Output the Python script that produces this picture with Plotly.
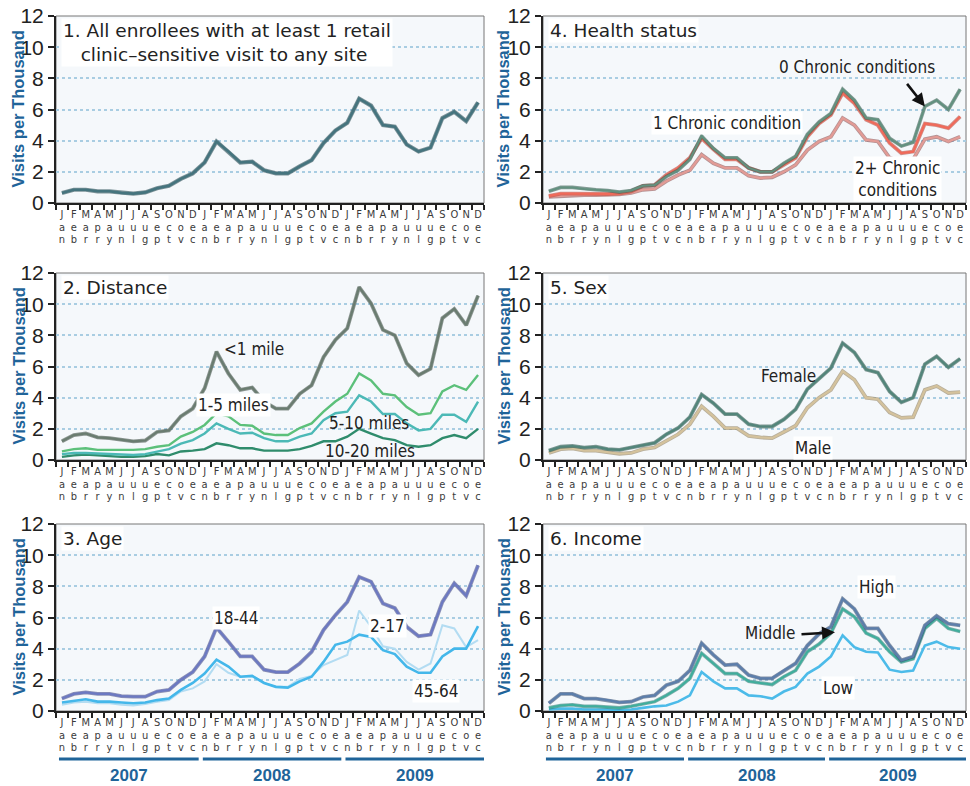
import plotly.graph_objects as go
from plotly.subplots import make_subplots

# ---------------- data ----------------
months = ["Jan", "Feb", "Mar", "Apr", "May", "Jun", "Jul", "Aug", "Sep", "Oct", "Nov", "Dec"] * 3
years = ["2007", "2008", "2009"]
y_ticks = [0, 2, 4, 6, 8, 10, 12]

# Panel 1: all enrollees
all_enrollees = [0.64, 0.85, 0.85, 0.75, 0.75, 0.65, 0.6, 0.68, 0.95, 1.1, 1.55, 1.9,
                 2.6, 3.95, 3.3, 2.6, 2.65, 2.1, 1.9, 1.9, 2.35, 2.75, 3.85, 4.65,
                 5.15, 6.7, 6.25, 5.0, 4.9, 3.75, 3.3, 3.55, 5.45, 5.85, 5.25, 6.45]

# Panel 2: distance
dist_lt1 = [1.2, 1.6, 1.7, 1.45, 1.4, 1.3, 1.2, 1.25, 1.8, 1.9, 2.8, 3.3,
            4.6, 6.95, 5.55, 4.5, 4.65, 3.75, 3.3, 3.3, 4.25, 4.8, 6.6, 7.7,
            8.45, 11.1, 10.05, 8.35, 8.0, 6.2, 5.45, 5.85, 9.1, 9.7, 8.65, 10.55]
dist_1_5 = [0.55, 0.7, 0.75, 0.65, 0.65, 0.65, 0.65, 0.7, 0.85, 0.95, 1.5, 1.8,
            2.25, 3.0, 2.8, 2.25, 2.2, 1.7, 1.6, 1.6, 2.05, 2.35, 3.1, 3.75,
            4.25, 5.55, 5.1, 4.25, 4.15, 3.4, 2.9, 3.0, 4.4, 4.8, 4.5, 5.45]
dist_5_10 = [0.38, 0.45, 0.45, 0.42, 0.38, 0.32, 0.32, 0.38, 0.55, 0.7, 1.05, 1.28,
             1.7, 2.35, 2.0, 1.7, 1.75, 1.4, 1.2, 1.2, 1.5, 1.7, 2.55, 3.0,
             3.1, 4.15, 3.75, 2.95, 2.95, 2.35, 1.9, 2.0, 2.9, 2.9, 2.45, 3.75]
dist_10_20 = [0.2, 0.3, 0.35, 0.3, 0.25, 0.2, 0.2, 0.25, 0.38, 0.3, 0.55, 0.6,
              0.7, 1.07, 0.95, 0.75, 0.75, 0.6, 0.6, 0.6, 0.7, 0.9, 1.2, 1.2,
              1.5, 2.0, 1.7, 1.4, 1.28, 0.95, 0.85, 0.95, 1.4, 1.6, 1.4, 2.0]

# Panel 3: age
age_18_44 = [0.8, 1.1, 1.2, 1.1, 1.1, 0.95, 0.92, 0.92, 1.25, 1.35, 2.0, 2.5,
             3.5, 5.35, 4.45, 3.5, 3.5, 2.65, 2.5, 2.5, 3.05, 3.8, 5.2, 6.15,
             7.0, 8.6, 8.3, 6.9, 6.6, 5.4, 4.8, 4.9, 7.0, 8.2, 7.4, 9.35]
age_2_17 = [0.4, 0.55, 0.6, 0.5, 0.5, 0.4, 0.35, 0.45, 0.6, 0.7, 1.25, 1.45,
            1.9, 3.0, 2.45, 2.2, 2.25, 1.8, 1.55, 1.55, 2.05, 2.25, 2.95, 3.3,
            3.6, 6.45, 5.4, 4.15, 4.0, 3.15, 2.65, 3.05, 5.5, 5.3, 4.1, 4.55]
age_45_64 = [0.55, 0.65, 0.75, 0.6, 0.6, 0.55, 0.5, 0.55, 0.7, 0.8, 1.35, 1.8,
             2.4, 3.3, 2.85, 2.2, 2.25, 1.8, 1.55, 1.5, 1.9, 2.2, 3.15, 4.25,
             4.45, 4.9, 4.75, 3.9, 3.65, 2.85, 2.45, 2.45, 3.5, 4.0, 4.0, 5.45]

# Panel 4: health status
chronic_0 = [0.75, 1.0, 1.0, 0.9, 0.85, 0.8, 0.7, 0.8, 1.1, 1.15, 1.7, 2.1,
             2.8, 4.3, 3.5, 2.9, 2.9, 2.25, 2.0, 2.0, 2.55, 3.0, 4.4, 5.2,
             5.75, 7.3, 6.6, 5.45, 5.35, 4.15, 3.65, 3.9, 6.2, 6.6, 6.0, 7.3]
chronic_1 = [0.45, 0.6, 0.6, 0.58, 0.58, 0.58, 0.6, 0.75, 1.1, 1.15, 1.8, 2.25,
             2.9, 4.15, 3.45, 2.8, 2.8, 2.25, 2.0, 2.0, 2.45, 2.9, 4.25, 5.1,
             5.65, 7.05, 6.4, 5.35, 5.0, 3.85, 3.2, 3.3, 5.1, 5.0, 4.8, 5.55]
chronic_2p = [0.4, 0.45, 0.5, 0.5, 0.5, 0.5, 0.55, 0.65, 0.85, 0.9, 1.4, 1.8,
              2.1, 3.1, 2.55, 2.25, 2.25, 1.75, 1.6, 1.65, 2.0, 2.45, 3.4, 3.95,
              4.25, 5.45, 5.0, 4.05, 3.95, 2.9, 2.65, 2.8, 4.1, 4.25, 3.95, 4.25]

# Panel 5: sex
female = [0.6, 0.85, 0.9, 0.8, 0.85, 0.7, 0.65, 0.8, 0.95, 1.1, 1.65, 2.05,
          2.75, 4.2, 3.65, 2.95, 2.95, 2.3, 2.15, 2.15, 2.6, 3.25, 4.55, 5.25,
          5.9, 7.5, 6.9, 5.8, 5.6, 4.4, 3.7, 4.0, 6.15, 6.65, 5.95, 6.5]
male = [0.45, 0.7, 0.75, 0.6, 0.6, 0.5, 0.4, 0.45, 0.7, 0.8, 1.2, 1.65,
        2.3, 3.45, 2.8, 2.05, 2.05, 1.55, 1.45, 1.4, 1.8, 2.2, 3.35, 4.0,
        4.5, 5.7, 5.15, 4.0, 3.9, 3.05, 2.7, 2.75, 4.5, 4.75, 4.3, 4.35]

# Panel 6: income
income_high = [0.5, 1.1, 1.1, 0.8, 0.8, 0.7, 0.55, 0.6, 0.9, 1.0, 1.65, 1.9,
               2.6, 4.35, 3.6, 2.95, 3.0, 2.3, 2.1, 2.1, 2.6, 3.05, 4.2, 4.95,
               5.4, 7.2, 6.55, 5.3, 5.3, 4.2, 3.25, 3.5, 5.5, 6.1, 5.6, 5.5]
income_middle = [0.2, 0.35, 0.4, 0.3, 0.3, 0.25, 0.2, 0.3, 0.45, 0.6, 1.0, 1.45,
                 2.1, 3.7, 3.05, 2.4, 2.4, 1.9, 1.8, 1.7, 2.2, 2.6, 3.8, 4.3,
                 5.0, 6.55, 6.05, 5.0, 4.65, 3.8, 3.15, 3.35, 5.3, 5.95, 5.3, 5.1]
income_low = [0.1, 0.15, 0.15, 0.1, 0.1, 0.1, 0.05, 0.1, 0.2, 0.3, 0.35, 0.6,
              1.0, 2.5, 1.9, 1.45, 1.45, 1.0, 0.95, 0.8, 1.25, 1.55, 2.4, 2.85,
              3.5, 4.85, 4.1, 3.8, 3.75, 2.65, 2.5, 2.6, 4.2, 4.45, 4.1, 4.0]

# ---------------- styling ----------------
BLUE = "#1f6499"
INK = "#222222"
NARROW = "Liberation Sans Narrow, DejaVu Sans Condensed, Roboto, sans-serif"
SANS = "Liberation Sans, Arial, Roboto, sans-serif"
WIDE = "DejaVu Sans, Verdana, sans-serif"

xs = list(range(len(months)))

panels = [
    dict(row=1, col=1,
         title="1. All enrollees with at least 1 retail<br>\u00a0\u00a0\u00a0clinic\u2013sensitive visit to any site",
         series=[(all_enrollees, "#45747e", "#2e5058", 2.6)],
         labels=[], arrows=[]),
    dict(row=1, col=2, title="4. Health status",
         series=[(chronic_2p, "#e39b95", "#8d5050", 2.2),
                 (chronic_1, "#f06a5a", "#b84c40", 2.3),
                 (chronic_0, "#62917f", "#3a5f52", 2.0)],
         labels=[("0 Chronic conditions", 26.2, 8.75, "center", False),
                 ("1 Chronic condition", 15.2, 5.15, "center", True),
                 ("2+ Chronic<br>conditions", 29.7, 1.55, "center", True)],
         arrows=[(32, 6.2, -19, -24)]),
    dict(row=2, col=1, title="2. Distance",
         series=[(dist_10_20, "#2f8c6c", None, 2.4),
                 (dist_5_10, "#4cb9b6", None, 2.4),
                 (dist_1_5, "#5cc07a", None, 2.4),
                 (dist_lt1, "#6a7c70", "#48564d", 2.2)],
         labels=[("<1 mile", 13.45, 7.15, "left", False),
                 ("1-5 miles", 14.4, 3.55, "center", True),
                 ("5-10 miles", 25.8, 2.35, "center", False),
                 ("10-20 miles", 25.9, 0.6, "center", False)],
         arrows=[]),
    dict(row=2, col=2, title="5. Sex",
         series=[(male, "#d4c29c", "#8e7d5c", 2.2),
                 (female, "#52857a", "#30594f", 2.2)],
         labels=[("Female", 20.4, 5.4, "center", False),
                 ("Male", 22.5, 0.8, "center", True)],
         arrows=[]),
    dict(row=3, col=1, title="3. Age",
         series=[(age_2_17, "#b3dcf2", None, 2.0),
                 (age_45_64, "#44b7ea", None, 2.6),
                 (age_18_44, "#6c79c2", "#4a4f88", 2.2)],
         labels=[("18-44", 14.6, 6.0, "center", True),
                 ("2-17", 27.4, 5.45, "center", True),
                 ("45-64", 31.5, 1.3, "center", True)],
         arrows=[]),
    dict(row=3, col=2, title="6. Income",
         series=[(income_low, "#4cbbe9", None, 2.6),
                 (income_middle, "#3fae9c", "#2f7f78", 2.0),
                 (income_high, "#5c7eab", "#3a4f70", 2.2)],
         labels=[("High", 27.9, 7.95, "center", True),
                 ("Middle", 18.9, 5.0, "center", False),
                 ("Low", 24.6, 1.45, "center", True)],
         arrows=[(24.35, 5.05, -35, 2)]),
]

fig = make_subplots(rows=3, cols=2)

left_dom = [56 / 970, 484 / 970]
right_dom = [543 / 970, 966 / 970]
row_dom = {1: [1 - 203 / 786, 1 - 16 / 786],
           2: [1 - 460 / 786, 1 - 273 / 786],
           3: [1 - 711 / 786, 1 - 524 / 786]}

shapes = []
annotations = []
extra_axes = {}
LETTER_FONT = dict(family=NARROW, size=11, color="#3a3a3a")

for p in panels:
    r, c = p["row"], p["col"]
    idx = (r - 1) * 2 + c
    xname = "x" if idx == 1 else f"x{idx}"
    yname = "y" if idx == 1 else f"y{idx}"
    for vals, color, edge, w in p["series"]:
        if edge:
            fig.add_trace(go.Scatter(x=xs, y=vals, mode="lines",
                                     line=dict(color=edge, width=w + 1.6),
                                     opacity=0.6, showlegend=False, hoverinfo="skip"),
                          row=r, col=c)
        fig.add_trace(go.Scatter(x=xs, y=vals, mode="lines",
                                 line=dict(color=color, width=w),
                                 showlegend=False), row=r, col=c)

    xd = left_dom if c == 1 else right_dom
    fig.update_xaxes(domain=xd, range=[-0.5, 35.5], tickmode="array", tickvals=xs,
                     ticktext=[m[0] for m in months], ticks="", showgrid=False,
                     zeroline=False, showline=True, linecolor=INK, linewidth=2,
                     tickfont=LETTER_FONT, ticklabelstandoff=0, automargin=False,
                     minor=dict(tick0=-0.5, dtick=1, ticks="outside", ticklen=5,
                                tickwidth=1.5, tickcolor=INK, showgrid=False),
                     row=r, col=c)
    fig.update_yaxes(domain=row_dom[r], range=[0, 12], tickmode="array", tickvals=y_ticks,
                     ticks="outside", ticklen=6, tickwidth=1.5, tickcolor=INK,
                     showline=True, linecolor=INK, linewidth=2, zeroline=False,
                     showgrid=True, gridcolor="#a9cde2", griddash="dot", gridwidth=1.5,
                     tickfont=dict(family=SANS, size=21, color=INK), automargin=False,
                     row=r, col=c)

    # extra overlaid axes carrying the 2nd and 3rd letters of the month names
    first_vals = p["series"][0][0]
    for k, stand in ((1, 16), (2, 28)):
        ax_id = 6 + (idx - 1) * 2 + k
        extra_axes[f"xaxis{ax_id}"] = dict(
            overlaying=xname, anchor=yname, side="bottom", range=[-0.5, 35.5],
            tickmode="array", tickvals=xs, ticktext=[m[k] for m in months],
            ticks="", showline=False, showgrid=False, zeroline=False,
            ticklabelstandoff=stand, automargin=False, tickfont=LETTER_FONT)
        # invisible carrier trace so the overlaid axis is drawn
        fig.add_trace(go.Scatter(x=xs, y=first_vals, mode="lines", opacity=0,
                                 line=dict(width=0), hoverinfo="skip", showlegend=False,
                                 xaxis=f"x{ax_id}", yaxis=yname))

    shapes.append(dict(type="rect", xref=f"{xname} domain", yref=f"{yname} domain",
                       x0=0, x1=1, y0=0, y1=1, line=dict(color="#777777", width=1),
                       layer="below"))

    annotations.append(dict(text=p["title"], xref=f"{xname} domain", yref=f"{yname} domain",
                            x=0.012, y=0.99, xanchor="left", yanchor="top", align="left",
                            showarrow=False, bgcolor="white", borderpad=1,
                            font=dict(family=WIDE, size=18.5, color=INK)))

    annotations.append(dict(text="<b>Visits per Thousand</b>", xref="paper", yref="paper",
                            x=(18 if c == 1 else 503) / 970, y=sum(row_dom[r]) / 2,
                            textangle=-90, showarrow=False, xanchor="center", yanchor="middle",
                            font=dict(family=SANS, size=16.5, color=BLUE)))

    for text, lx, ly, anchor, box in p["labels"]:
        annotations.append(dict(text=text, xref=xname, yref=yname, x=lx, y=ly,
                                xanchor=anchor, yanchor="middle", showarrow=False,
                                bgcolor="white" if box else None, borderpad=1,
                                font=dict(family=NARROW, size=17, color=INK)))
    for axx, axy, dx, dy in p["arrows"]:
        annotations.append(dict(text="", xref=xname, yref=yname, x=axx, y=axy,
                                ax=dx, ay=dy, showarrow=True, arrowhead=2,
                                arrowsize=1, arrowwidth=2.6, arrowcolor="#111111"))

    if r == 3:
        for yi, yr in enumerate(years):
            x0 = yi * 12 - 0.25 + (0.1 if yi else 0)
            x1 = yi * 12 + 11.5
            shapes.append(dict(type="line", xref=xname, yref="paper", x0=x0, x1=x1,
                               y0=1 - 759 / 786, y1=1 - 759 / 786,
                               line=dict(color=BLUE, width=3)))
            annotations.append(dict(text=f"<b>{yr}</b>", xref=xname, yref="paper",
                                    x=(x0 + x1) / 2, y=1 - 775 / 786, showarrow=False,
                                    xanchor="center", yanchor="middle",
                                    font=dict(family=SANS, size=17, color=BLUE)))

fig.update_layout(**extra_axes)
fig.update_layout(width=970, height=786, margin=dict(l=0, r=0, t=0, b=0, pad=0),
                  paper_bgcolor="white", plot_bgcolor="#f5f8fb",
                  showlegend=False, shapes=shapes, annotations=annotations)

fig.write_html("out.html", config={"displayModeBar": False},
               post_script="document.body.style.margin='0';")
